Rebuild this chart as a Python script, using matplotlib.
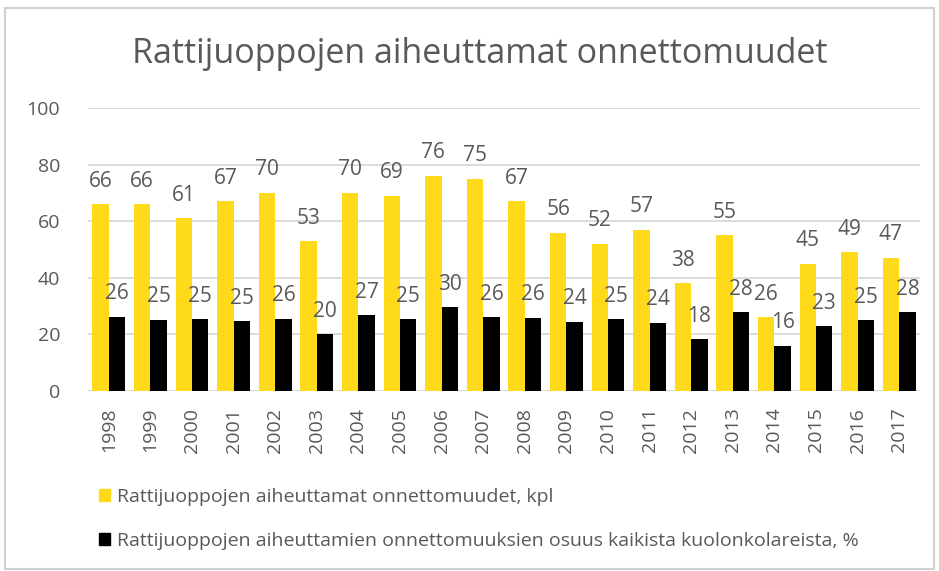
import matplotlib
matplotlib.use("Agg")
import matplotlib.pyplot as plt
from matplotlib.patches import Patch, Rectangle
import numpy as np

plt.rcParams['font.family'] = ['Open Sans', 'DejaVu Sans']

years = [str(y) for y in range(1998, 2018)]
accidents = [66, 66, 61, 67, 70, 53, 70, 69, 76, 75, 67, 56, 52, 57, 38, 55, 26, 45, 49, 47]
share = [26.2, 25.2, 25.4, 24.6, 25.5, 20.1, 26.8, 25.4, 29.6, 26.0, 25.9, 24.5, 25.4, 24.1, 18.3, 27.8, 16.0, 22.8, 25.0, 27.8]

title = "Rattijuoppojen aiheuttamat onnettomuudet"
label1 = "Rattijuoppojen aiheuttamat onnettomuudet, kpl"
label2 = "Rattijuoppojen aiheuttamien onnettomuuksien osuus kaikista kuolonkolareista, %"

yellow = "#FFDA1A"
black = "#000000"
textc = "#595959"

fig = plt.figure(figsize=(9.39, 5.71), dpi=100)
ax = fig.add_axes([88/939, 1-391/571, 832/939, 283/571])

x = np.arange(len(years))
w = 0.395
ax.bar(x - w/2, accidents, width=w, color=yellow, zorder=3)
ax.bar(x + w/2, share, width=w, color=black, zorder=3)

for xi, v in zip(x, accidents):
    ax.annotate(f"{v:.0f}", (xi - w/2, v), xytext=(0, 9), textcoords="offset points",
                ha="center", va="bottom", fontsize=15, color=textc)
for xi, v in zip(x, share):
    ax.annotate(f"{v:.0f}", (xi + w/2, v), xytext=(0, 9), textcoords="offset points",
                ha="center", va="bottom", fontsize=15, color=textc)

ax.set_xlim(-0.5, len(years) - 0.5)
ax.set_ylim(0, 100)
ax.set_yticks(range(0, 101, 20))
ax.set_xticks(x)
ax.set_xticklabels(years, rotation=90, fontsize=14, color=textc)
ax.tick_params(axis='y', labelsize=14, labelcolor=textc, length=0, pad=20)
ax.tick_params(axis='x', length=0, pad=12)
ax.grid(axis='y', color="#D9D9D9", linewidth=1.3, zorder=0)
for s in ax.spines.values():
    s.set_visible(False)

fig.text(480/939, 1-54/571, title, ha="center", va="center", fontsize=24.5, color=textc)

handles = [Patch(color=yellow, label=label1), Patch(color=black, label=label2)]
fig.legend(handles=handles, loc="upper left", bbox_to_anchor=(91/939, 1-480/571),
           frameon=False, fontsize=14, labelcolor=textc, handlelength=0.6,
           handleheight=0.6, handletextpad=0.35, labelspacing=1.35, borderaxespad=0)

fig.patches.append(Rectangle((5/939, 0.003), 1-10/939, 1-10/571, transform=fig.transFigure,
                             fill=False, edgecolor="#D0D0D0", linewidth=1.5))

fig.savefig("out.png", dpi=100)
